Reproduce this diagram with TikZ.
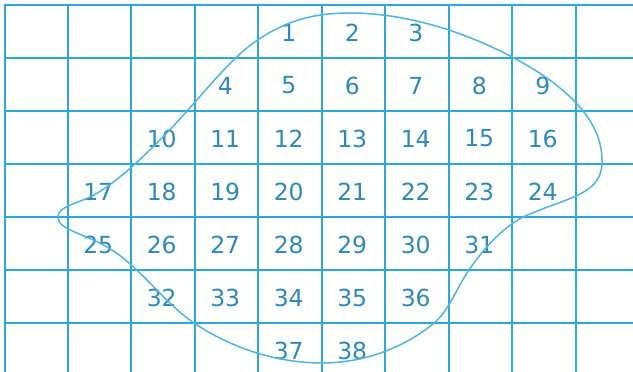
\documentclass[tikz,border=0pt]{standalone}
\usepackage{fontspec}
\setmainfont{DejaVu Sans}
\definecolor{gridblue}{HTML}{2BA6DE}
\definecolor{curveblue}{HTML}{4CB5E6}
\definecolor{numblue}{HTML}{2F88BD}
\tikzset{
  gridline/.style={draw=gridblue, line width=2pt},
  blob/.style={draw=curveblue, line width=1.5pt},
  num/.style={text=numblue, font=\fontsize{23.5}{24}\selectfont, inner sep=0pt, anchor=center}
}
\begin{document}
\begin{tikzpicture}[x=1pt,y=-1pt]
\useasboundingbox (0,0) rectangle (633,372);
\fill[white] (0,0) rectangle (633,372);
% grid
\foreach \x in {5,68,131,195,258,322,385,449,512,576} {
  \draw[gridline] (\x,4) -- (\x,372);
}
\foreach \y in {5,58,111,164,217,270,323} {
  \draw[gridline] (4,\y) -- (633,\y);
}
% numbers
\foreach \n/\c/\r in {1/4/0,2/5/0,3/6/0,
  4/3/1,5/4/1,6/5/1,7/6/1,8/7/1,9/8/1,
  10/2/2,11/3/2,12/4/2,13/5/2,14/6/2,15/7/2,16/8/2,
  17/1/3,18/2/3,19/3/3,20/4/3,21/5/3,22/6/3,23/7/3,24/8/3,
  25/1/4,26/2/4,27/3/4,28/4/4,29/5/4,30/6/4,31/7/4,
  32/2/5,33/3/5,34/4/5,35/5/5,36/6/5,
  37/4/6,38/5/6} {
  \node[num] (n\n) at ({5+63.5*(\c+0.5)-2},{5+53*(\r+0.5)+1}) {\n};
}
% closed curve
\draw[blob] (350,13)
  .. controls (405,13) and (463,31) .. (512,57)
  .. controls (556,80) and (602,115) .. (602,160)
  .. controls (603,195) and (570,196) .. (523,217)
  .. controls (501,228.5) and (480.75,252) .. (467,273)
  .. controls (456,289.7) and (448.5,311.4) .. (433,324)
  .. controls (402,349) and (362,363) .. (322,363)
  .. controls (277,363) and (231,348) .. (194,323)
  .. controls (162.6,301.6) and (139.8,266) .. (107,247)
  .. controls (85,234) and (57,229) .. (58,217)
  .. controls (58,207) and (75,204) .. (90,197)
  .. controls (121.5,181.6) and (164.7,136) .. (188,110)
  .. controls (208,87.6) and (234,55.4) .. (259,39)
  .. controls (288,20) and (315,13) .. (350,13)
  -- cycle;
\end{tikzpicture}
\end{document}
